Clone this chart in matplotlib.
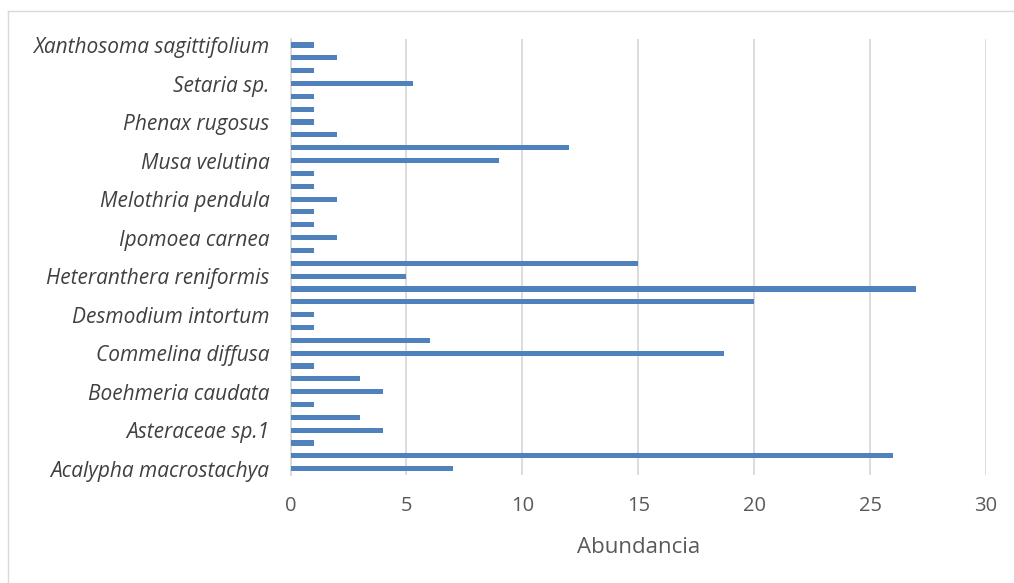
import numpy as np
import matplotlib
matplotlib.use("Agg")
import matplotlib.pyplot as plt
from matplotlib.lines import Line2D

# abundance per species, bottom bar first
values = [7, 26, 1, 4, 3, 1, 4, 3, 1, 18.7, 6, 1, 1, 20, 27, 5, 15, 1,
          2, 1, 1, 2, 1, 1, 9, 12, 2, 1, 1, 1, 5.3, 1, 2, 1]
# only every third category label is shown on the axis
shown_labels = ["Acalypha macrostachya", "Asteraceae sp.1", "Boehmeria caudata",
                "Commelina diffusa", "Desmodium intortum", "Heteranthera reniformis",
                "Ipomoea carnea", "Melothria pendula", "Musa velutina",
                "Phenax rugosus", "Setaria sp.", "Xanthosoma sagittifolium"]
x_ticks = [0, 5, 10, 15, 20, 25, 30]

W, H = 1014, 583
fig = plt.figure(figsize=(W / 100, H / 100), dpi=100)
ax = fig.add_axes([290.5 / W, 1 - 475.1 / H, (986 - 290.5) / W, (475.1 - 38.6) / H])

pos = np.arange(len(values))
ax.barh(pos, values, height=0.4, color="#4F81BD", zorder=3)

ax.set_xlim(0, 30)
ax.set_ylim(-0.5, len(values) - 0.5)
ax.set_xticks(x_ticks)
ax.set_xticklabels([str(t) for t in x_ticks], fontsize=14.5, color="#595959",
                   family="Open Sans")
ax.set_yticks(pos[::3])
ax.set_yticklabels(shown_labels, fontsize=15, color="#404040", style="italic",
                   family="Open Sans")
ax.tick_params(axis="y", length=0, pad=15)
ax.tick_params(axis="x", length=0, pad=15)
ax.grid(axis="x", color="#D9D9D9", linewidth=1.3, zorder=0)
for s in ["top", "right", "bottom"]:
    ax.spines[s].set_visible(False)
ax.spines["left"].set_color("#D9D9D9")
ax.spines["left"].set_linewidth(1.3)
ax.set_xlabel("Abundancia", fontsize=16, color="#595959", family="Open Sans",
              labelpad=15)

# outer chart border (only top and left are in the picture)
fig.add_artist(Line2D([7.5 / W, 7.5 / W], [0, 1 - 10.5 / H], color="#D9D9D9", lw=1))
fig.add_artist(Line2D([7.5 / W, 1], [1 - 10.5 / H, 1 - 10.5 / H], color="#D9D9D9", lw=1))

fig.savefig("out.png", dpi=100)
